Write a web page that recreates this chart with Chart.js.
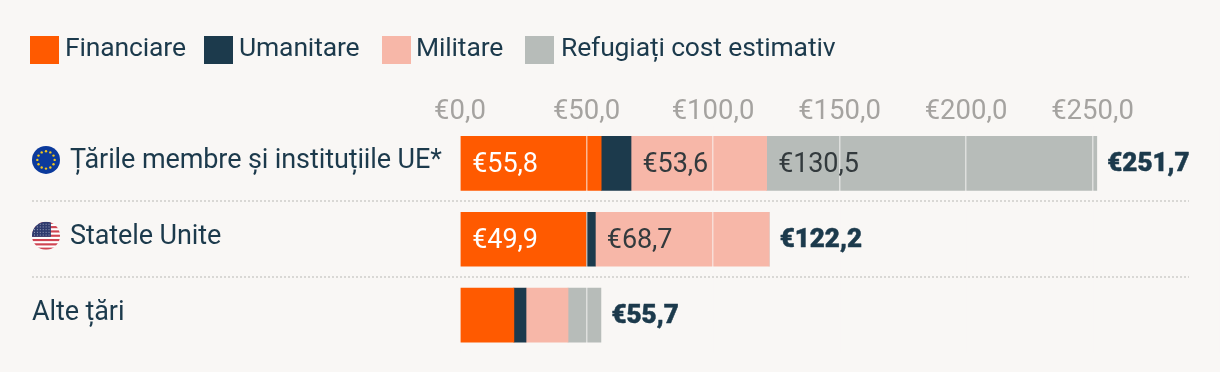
<!DOCTYPE html>
<html lang="ro"><head><meta charset="utf-8">
<style>html,body{margin:0;padding:0;background:#f9f7f5}#w{position:relative;width:1220px;height:372px}</style>
<script src="https://cdn.jsdelivr.net/npm/chart.js@4"></script></head>
<body><div id="w"><canvas id="c" width="1220" height="372"></canvas></div>
<script>
const categories = ['Țările membre și instituțiile UE*', 'Statele Unite', 'Alte țări'];
const financiare = [55.8, 49.9, 21.3];
const umanitare = [11.8, 3.6, 4.8];
const militare = [53.6, 68.7, 16.6];
const refugiati = [130.5, 0, 13.0];
const totals = [251.7, 122.2, 55.7];
const seriesNames = ['Financiare', 'Umanitare', 'Militare', 'Refugiați cost estimativ'];
const seriesColors = ['#ff5a00', '#1c3a4c', '#f7b7a8', '#b7bcb9'];
const labelColors = ['#ffffff', '#ffffff', '#333a3d', '#333a3d'];
const legendX = [30, 204, 382, 525];
const legendTextX = [65, 239, 416, 561];
const fontFam = 'Roboto, sans-serif';
const fmt = v => '€' + v.toFixed(1).replace('.', ',');

function drawEU(ctx, x, y, r) {
  ctx.save();
  ctx.fillStyle = '#0b3a9c';
  ctx.beginPath(); ctx.arc(x, y, r, 0, Math.PI * 2); ctx.fill();
  ctx.fillStyle = '#f2c71b';
  for (let i = 0; i < 12; i++) {
    const a = i * Math.PI / 6;
    ctx.beginPath(); ctx.arc(x + Math.cos(a) * r * .62, y + Math.sin(a) * r * .62, 1.2, 0, Math.PI * 2); ctx.fill();
  }
  ctx.restore();
}
function drawUS(ctx, x, y, r) {
  ctx.save();
  ctx.beginPath(); ctx.arc(x, y, r, 0, Math.PI * 2); ctx.clip();
  ctx.fillStyle = '#ffffff'; ctx.fillRect(x - r, y - r, 2 * r, 2 * r);
  ctx.fillStyle = '#cf4452';
  const h = 2 * r / 13;
  for (let i = 0; i < 13; i += 2) ctx.fillRect(x - r, y - r + i * h, 2 * r, h);
  ctx.fillStyle = '#2f3b6e'; ctx.fillRect(x - r, y - r, r * 1.35, h * 7);
  ctx.fillStyle = 'rgba(255,255,255,.55)';
  for (let j = 0; j < 5; j++) for (let i = 0; i < 6; i++)
    ctx.fillRect(x - r + 2 + i * 2.9, y - r + 2 + j * 2.7, 1, 1);
  ctx.restore();
}
const overlay = {
  id: 'overlay',
  afterDraw(chart) {
    const {ctx, scales: {x: xs, y: ys}} = chart;
    ctx.save();
    ctx.textBaseline = 'middle'; ctx.textAlign = 'left';
    // legend
    ctx.font = '26.5px ' + fontFam; ctx.letterSpacing = '-0.15px';
    chart.data.datasets.forEach((d, i) => {
      ctx.fillStyle = d.backgroundColor;
      ctx.fillRect(legendX[i], 36, 29, 28);
      ctx.fillStyle = '#1c3a4c';
      ctx.fillText(d.label, legendTextX[i], 49);
    });
    // row separators
    ctx.strokeStyle = '#d9d8d5'; ctx.lineWidth = 2; ctx.setLineDash([2, 2]);
    for (let i = 0; i < categories.length - 1; i++) {
      const yy = Math.round((ys.getPixelForValue(i) + ys.getPixelForValue(i + 1)) / 2);
      ctx.beginPath(); ctx.moveTo(32, yy); ctx.lineTo(1189, yy); ctx.stroke();
    }
    ctx.setLineDash([]);
    // row labels and flags
    ctx.letterSpacing = '-0.1px';
    categories.forEach((c, i) => {
      const yy = ys.getPixelForValue(i);
      ctx.fillStyle = '#1c3a4c'; ctx.font = '27px ' + fontFam;
      ctx.fillText(c, i < 2 ? 70 : 32, yy - 2);
      if (i === 0) drawEU(ctx, 46, yy - 3.5, 14);
      if (i === 1) drawUS(ctx, 46, yy - 3.5, 14);
    });
    // value labels
    chart.data.datasets.forEach((d, di) => {
      const meta = chart.getDatasetMeta(di);
      d.data.forEach((v, i) => {
        if (v < 40) return;
        const el = meta.data[i];
        ctx.fillStyle = labelColors[di]; ctx.font = '27px ' + fontFam;
        ctx.fillText(fmt(v), el.base + 11.5, el.y + 2);
      });
    });
    // totals
    ctx.letterSpacing = '0px';
    ctx.fillStyle = '#1c3a4c'; ctx.strokeStyle = '#1c3a4c'; ctx.lineWidth = .5; ctx.lineJoin = 'round';
    ctx.font = '900 26px ' + fontFam;
    totals.forEach((t, i) => {
      const el = chart.getDatasetMeta(3).data[i];
      const end = xs.getPixelForValue(t);
      ctx.fillText(fmt(t), end + 10.5, el.y + 1.5);
      ctx.strokeText(fmt(t), end + 10.5, el.y + 1.5);
    });
    ctx.restore();
  }
};
const values = [financiare, umanitare, militare, refugiati];
new Chart(document.getElementById('c'), {
  type: 'bar',
  data: {
    labels: categories,
    datasets: seriesNames.map((n, i) => ({
      label: n, data: values[i], backgroundColor: seriesColors[i], borderWidth: 0,
      barThickness: 54
    }))
  },
  options: {
    indexAxis: 'y', responsive: false, animation: false,
    layout: {padding: {left: 0, right: 1, top: 0, bottom: 19}},
    plugins: {legend: {display: false}, tooltip: {enabled: false}},
    scales: {
      x: {
        position: 'top', stacked: true, min: 0, max: 300,
        border: {display: false},
        grid: {color: 'rgba(249,247,245,.6)', lineWidth: 1.5, z: 1, drawTicks: false},
        ticks: {stepSize: 50, color: '#a5a3a0', font: {family: fontFam, size: 27.5}, padding: -3, maxRotation: 0,
          callback: v => v > 250 ? '' : fmt(v)},
        afterFit: s => { s.height = 125.5; }
      },
      y: {
        stacked: true,
        border: {display: false},
        grid: {display: false},
        ticks: {display: false},
        afterFit: s => { s.width = 460; }
      }
    }
  },
  plugins: [overlay]
});
</script></body></html>
